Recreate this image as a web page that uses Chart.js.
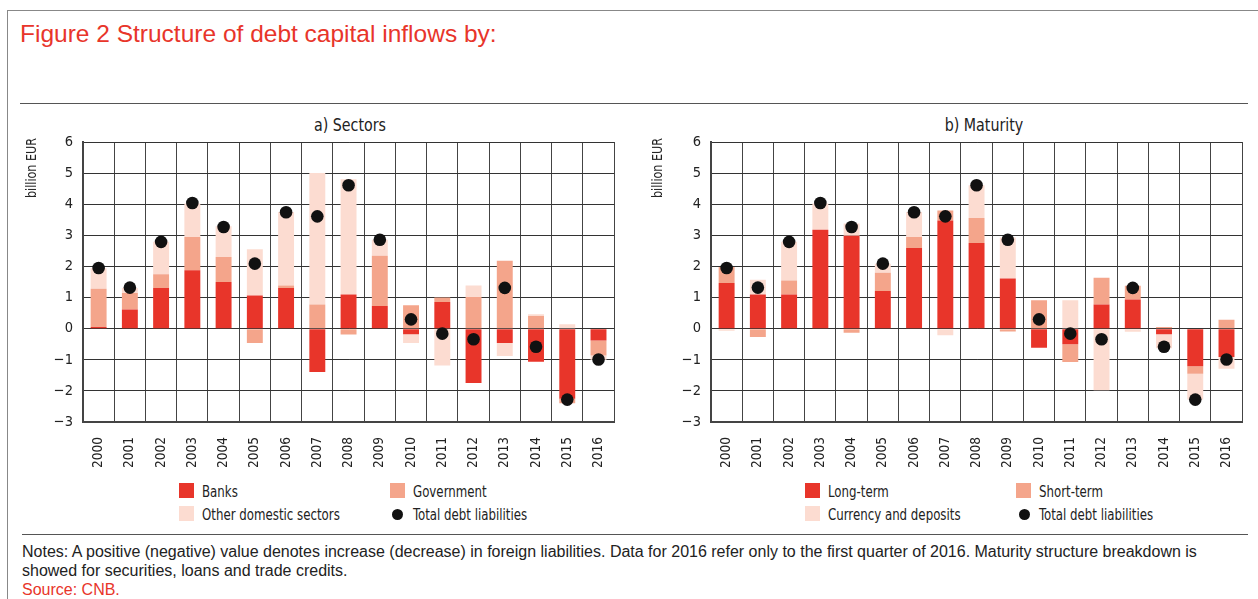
<!DOCTYPE html>
<html>
<head>
<meta charset="utf-8">
<script src="https://cdn.jsdelivr.net/npm/chart.js@4/dist/chart.umd.min.js"></script>
<style>
  body { margin: 0; width: 1258px; height: 599px; background: #fff; position: relative; overflow: hidden;
         font-family: 'Liberation Sans', Arial, sans-serif; color: #222; }
  .frame { position: absolute; left: 7px; top: 10px; right: 0; bottom: 0; border-top: 1px solid #888; border-left: 1px solid #888; }
  .title { position: absolute; left: 20px; top: 20px; font-size: 24.5px; color: #e8352a; white-space: nowrap; }
  .rule { position: absolute; left: 20px; width: 1228px; height: 0; border-top: 1.5px solid #555; }
  .sub { position: absolute; top: 114px; font-family: 'DejaVu Sans Condensed', sans-serif;
         font-size: 18px; color: #222; transform: translateX(-50%) scaleX(0.88); white-space: nowrap; }
  .ytitle { position: absolute; font-family: 'DejaVu Sans Condensed', sans-serif; font-size: 13.5px; color: #222;
            white-space: nowrap; line-height: 14px; transform: translate(-50%, -50%) rotate(-90deg) scaleX(0.92); }
  canvas { position: absolute; }
  .lg { position: absolute; font-family: 'DejaVu Sans Condensed', sans-serif; font-size: 15px; color: #222; white-space: nowrap;
        line-height: 16px; transform: scaleX(0.875); transform-origin: left center; }
  .sw { position: absolute; width: 15px; height: 15px; }
  .dot { position: absolute; width: 11px; height: 11px; border-radius: 50%; background: #111; }
  .notes { position: absolute; left: 22px; top: 542px; font-size: 16px; line-height: 19px; color: #222; white-space: nowrap; }
  .src { color: #e8352a; }
</style>
</head>
<body>
<div class="frame"></div>
<div class="title">Figure 2 Structure of debt capital inflows by:</div>
<div class="rule" style="top:103px"></div>
<div class="sub" style="left:350px">a) Sectors</div>
<div class="sub" style="left:984px">b) Maturity</div>

<canvas id="sectors" width="620" height="372" style="left:10px; top:108px; width:620px; height:372px"></canvas>
<canvas id="maturity" width="620" height="372" style="left:638px; top:108px; width:620px; height:372px"></canvas>
<div class="ytitle" style="left:31px; top:168px">billion EUR</div>
<div class="ytitle" style="left:657px; top:168px">billion EUR</div>

<div class="sw" style="left:179px; top:483px; background:#e8352a"></div>
<div class="lg" style="left:202px; top:484px">Banks</div>
<div class="sw" style="left:390px; top:483px; background:#f4a58b"></div>
<div class="lg" style="left:413px; top:484px">Government</div>
<div class="sw" style="left:179px; top:506px; background:#fcdcd1"></div>
<div class="lg" style="left:202px; top:507px">Other domestic sectors</div>
<div class="dot" style="left:392px; top:509px"></div>
<div class="lg" style="left:413px; top:507px">Total debt liabilities</div>

<div class="sw" style="left:805px; top:483px; background:#e8352a"></div>
<div class="lg" style="left:828px; top:484px">Long-term</div>
<div class="sw" style="left:1016px; top:483px; background:#f4a58b"></div>
<div class="lg" style="left:1039px; top:484px">Short-term</div>
<div class="sw" style="left:805px; top:506px; background:#fcdcd1"></div>
<div class="lg" style="left:828px; top:507px">Currency and deposits</div>
<div class="dot" style="left:1019px; top:509px"></div>
<div class="lg" style="left:1039px; top:507px">Total debt liabilities</div>

<div class="rule" style="top:534px; left:22px; width:1226px"></div>
<div class="notes">Notes: A positive (negative) value denotes increase (decrease) in foreign liabilities. Data for 2016 refer only to the first quarter of 2016. Maturity structure breakdown is<br>showed for securities, loans and trade credits.<br><span class="src">Source: CNB.</span></div>

<script>
const years = ['2000', '2001', '2002', '2003', '2004', '2005', '2006', '2007', '2008',
               '2009', '2010', '2011', '2012', '2013', '2014', '2015', '2016'];

// a) sectors, billion EUR
const banks        = [0.05, 0.62, 1.31, 1.88, 1.50, 1.07, 1.31, -1.39, 1.10, 0.73, -0.18, 0.86, -1.75, -0.46, -1.06, -2.25, -0.38];
const government   = [1.23, 0.53, 0.44, 1.07, 0.80, -0.46, 0.08, 0.78, -0.19, 1.61, 0.75, 0.14, 1.02, 2.18, 0.41, -0.15, -0.48];
const otherSectors = [0.66, 0.16, 1.04, 1.07, 0.99, 1.48, 2.36, 4.22, 3.70, 0.52, -0.28, -1.18, 0.37, -0.42, 0.05, 0.14, -0.14];

// b) maturity, billion EUR
const longTerm  = [1.47, 1.10, 1.10, 3.18, 2.99, 1.21, 2.59, 3.48, 2.75, 1.61, -0.61, -0.50, 0.78, 0.94, -0.18, -1.21, -0.91];
const shortTerm = [0.51, -0.27, 0.45, 0.00, -0.13, 0.59, 0.36, 0.32, 0.81, -0.09, 0.91, -0.57, 0.86, 0.44, 0.05, -0.24, 0.29];
const currency  = [-0.07, 0.47, 1.24, 0.84, 0.39, 0.29, 0.80, -0.21, 1.05, 1.32, 0.00, 0.91, -1.98, -0.10, -0.45, -0.83, -0.38];

// total debt liabilities (same in both panels)
const totalDebt = [1.95, 1.32, 2.79, 4.04, 3.27, 2.09, 3.74, 3.61, 4.61, 2.86, 0.30, -0.16, -0.34, 1.31, -0.58, -2.28, -0.99];

const yTicks = [-3, -2, -1, 0, 1, 2, 3, 4, 5, 6];

const RED = '#e8352a', SALMON = '#f4a58b', PINK = '#fcdcd1';
const NARROW = "'DejaVu Sans Condensed', sans-serif";

function barSet(label, data, color, order) {
    return {
        label: label,
        type: 'bar',
        data: data,
        backgroundColor: color,
        stack: 'parts',
        order: order,
        categoryPercentage: 1,
        barPercentage: 0.51,
    };
}

function makeChart(id, parts) {
    const datasets = [
        barSet(parts[0][0], parts[0][1], RED, 3),
        barSet(parts[1][0], parts[1][1], SALMON, 4),
        barSet(parts[2][0], parts[2][1], PINK, 5),
        {
            label: 'Total debt liabilities',
            type: 'line',
            data: totalDebt,
            stack: 'total',
            order: 0,
            showLine: false,
            pointRadius: 6.3,
            pointBackgroundColor: '#111',
            pointBorderWidth: 0,
        }
    ];
    return new Chart(document.getElementById(id), {
        data: {labels: years, datasets: datasets},
        options: {
            responsive: false,
            animation: false,
            devicePixelRatio: 1,
            layout: {padding: {top: 34, right: 10, left: 0, bottom: 0}},
            plugins: {legend: {display: false}, tooltip: {enabled: false}},
            scales: {
                x: {
                    stacked: true,
                    grid: {color: '#444', lineWidth: 1, drawTicks: false, offset: true},
                    border: {color: '#444', width: 2},
                    ticks: {
                        autoSkip: false, minRotation: 90, maxRotation: 90, padding: 15,
                        color: '#222', font: {family: NARROW, size: 13.5}
                    },
                    afterFit: (s) => { s.height = 58; }
                },
                y: {
                    stacked: true,
                    min: -3,
                    max: 6,
                    afterBuildTicks: (s) => { s.ticks = yTicks.map(v => ({value: v})); },
                    grid: {color: '#333', lineWidth: 1, drawTicks: false},
                    border: {color: '#444', width: 2},
                    ticks: {
                        padding: 10, color: '#222', font: {family: NARROW, size: 14.5},
                        callback: (v) => String(v).replace('-', '\u2212')
                    },
                    afterFit: (s) => { s.width = 73; }
                }
            }
        }
    });
}

makeChart('sectors', [['Banks', banks], ['Government', government], ['Other domestic sectors', otherSectors]]);
makeChart('maturity', [['Long-term', longTerm], ['Short-term', shortTerm], ['Currency and deposits', currency]]);
</script>
</body>
</html>
